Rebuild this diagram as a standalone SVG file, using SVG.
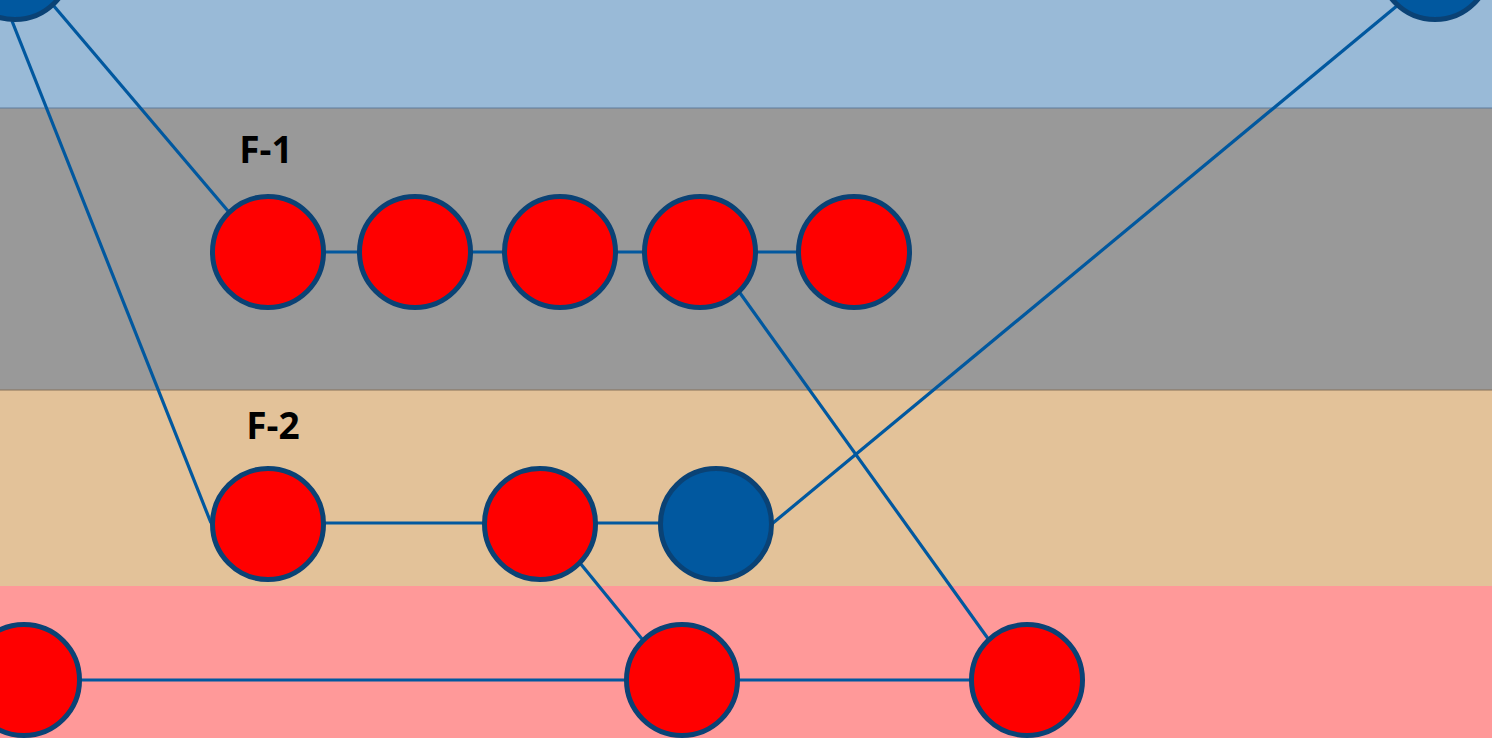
<svg xmlns="http://www.w3.org/2000/svg" width="1492" height="738" viewBox="0 0 1492 738">
<style>
.red{fill:#ff0000;stroke:#0a4275;stroke-width:5}
.blue{fill:#01589f;stroke:#0a4275;stroke-width:5}
.con{stroke:#01589f;stroke-width:3.2;fill:none}
.lbl{font-family:"Open Sans","Liberation Sans",Arial,sans-serif;font-weight:bold;font-size:37px;fill:#000;text-anchor:middle}
</style>
<g id="bands">
<rect x="0" y="0" width="1492" height="108" fill="#99bad7"/>
<rect x="0" y="108" width="1492" height="282" fill="#999999"/>
<rect x="0" y="390" width="1492" height="196" fill="#e3c299"/>
<rect x="0" y="586" width="1492" height="152" fill="#ff9999"/>
<line x1="0" y1="108" x2="1492" y2="108" stroke="#5e7d9c" stroke-width="1"/>
<line x1="0" y1="390" x2="1492" y2="390" stroke="#85705a" stroke-width="1"/>
</g>
<g id="connectors">
<line class="con" x1="53" y1="5" x2="228" y2="211"/>
<line class="con" x1="12" y1="21" x2="211" y2="523"/>
<line class="con" x1="1398" y1="5" x2="773" y2="523"/>
<line class="con" x1="740" y1="293" x2="989" y2="640"/>
<line class="con" x1="580" y1="563" x2="642" y2="639"/>
<line class="con" x1="268" y1="252" x2="854" y2="252"/>
<line class="con" x1="268" y1="523" x2="716" y2="523"/>
<line class="con" x1="24" y1="680" x2="1027" y2="680"/>
</g>
<g id="node-top-left"><circle class="blue" cx="15" cy="-36" r="55.5"/></g>
<g id="node-top-right"><circle class="blue" cx="1435" cy="-36" r="55.5"/></g>
<g id="label-f1"><text class="lbl" x="266" y="163">F-1</text></g>
<g id="label-f2"><text class="lbl" x="273" y="439">F-2</text></g>
<g id="f1-n1"><circle class="red" cx="268" cy="252" r="55.5"/></g>
<g id="f1-n2"><circle class="red" cx="415" cy="252" r="55.5"/></g>
<g id="f1-n3"><circle class="red" cx="560" cy="252" r="55.5"/></g>
<g id="f1-n4"><circle class="red" cx="700" cy="252" r="55.5"/></g>
<g id="f1-n5"><circle class="red" cx="854" cy="252" r="55.5"/></g>
<g id="f2-n1"><circle class="red" cx="268" cy="524" r="55.5"/></g>
<g id="f2-n2"><circle class="red" cx="540" cy="524" r="55.5"/></g>
<g id="f2-n3"><circle class="blue" cx="716" cy="524" r="55.5"/></g>
<g id="b-n1"><circle class="red" cx="24" cy="680" r="55.5"/></g>
<g id="b-n2"><circle class="red" cx="682" cy="680" r="55.5"/></g>
<g id="b-n3"><circle class="red" cx="1027" cy="680" r="55.5"/></g>
</svg>
